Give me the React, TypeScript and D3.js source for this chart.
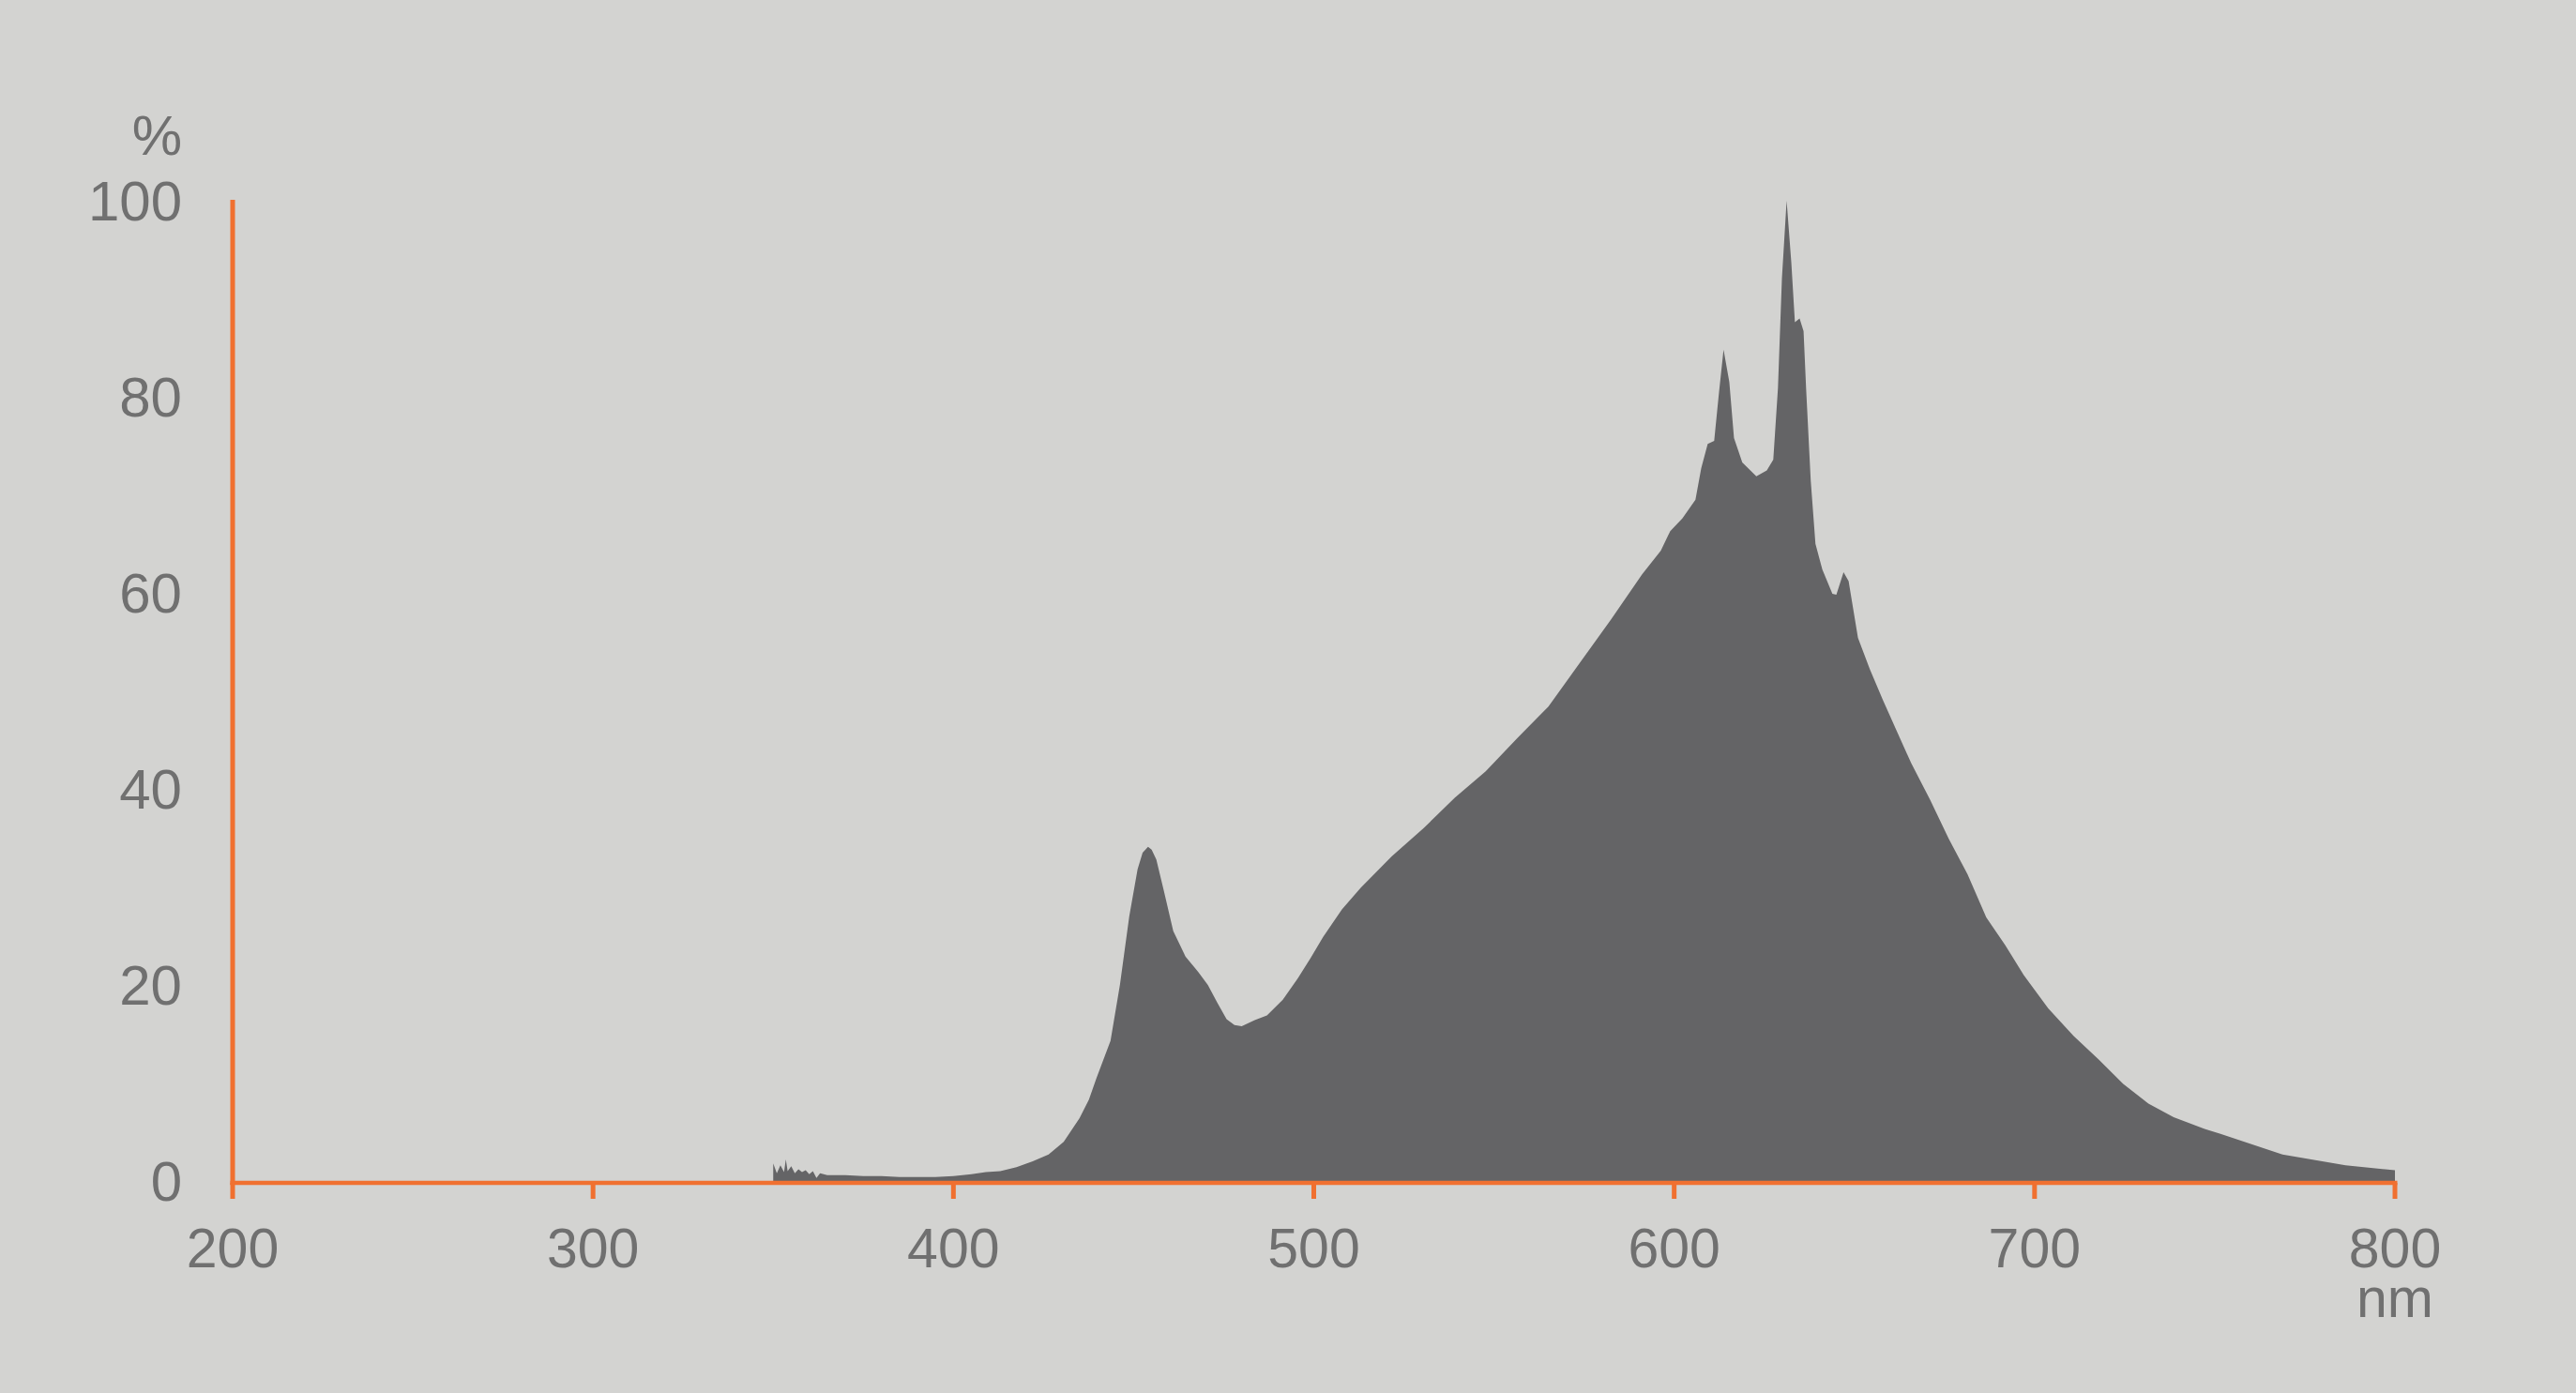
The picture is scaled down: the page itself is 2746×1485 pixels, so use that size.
import React from "react";
import * as d3 from "d3";

const wavelengths = [
  350, 351, 352, 353, 353.5, 354, 355, 356, 357, 358, 359, 360, 361, 362, 363, 365, 370, 375, 380, 385, 390, 395, 400,
  405, 409, 413, 417.5, 422, 426.4, 430.6, 435, 437.6, 439.7, 443.6, 446.2, 448.8, 451.1, 452.5, 454, 455, 456.3,
  458.4, 461, 464.4, 468, 470.6, 473.2, 475.8, 478, 480, 483.6, 487, 491.4, 495.6, 499.2, 502.6, 507.8, 513, 521.6,
  530.5, 539.1, 547.7, 556.5, 565.1, 573.7, 582.5, 591.1, 596.3, 598.9, 602.3, 605.9, 607.5, 609.3, 611.1, 612.4,
  613.7, 615.3, 616.6, 618.9, 622.8, 625.7, 627.5, 628.8, 629.9, 631.2, 632.5, 633.5, 634.8, 635.9, 636.6, 637.9,
  639.2, 641.1, 643.9, 645, 647, 648.4, 651, 654.3, 658, 661.4, 665.8, 671, 676.2, 681.4, 686.6, 691.8, 697, 703.8,
  710.8, 717.8, 724.6, 731.6, 738.6, 747.2, 751.6, 768.8, 786.3, 800,
];
const intensity = [
  1.8, 0.8, 1.6, 0.9, 2.2, 1.0, 1.5, 0.8, 1.2, 0.9, 1.1, 0.7, 1.0, 0.3, 0.8, 0.6, 0.6, 0.5, 0.5, 0.4, 0.4, 0.4, 0.5,
  0.7, 0.9, 1.0, 1.4, 2.0, 2.7, 4.0, 6.4, 8.3, 10.5, 14.3, 20, 27, 31.8, 33.5, 34.1, 33.8, 32.8,
  29.6, 25.5, 22.9, 21.3, 20, 18.2, 16.5, 15.9, 15.8, 16.4, 16.9, 18.5, 20.7, 22.8, 24.9, 27.7, 29.9, 33.1,
  36.0, 39.1, 41.8, 45.2, 48.4, 52.8, 57.3, 61.9, 64.3, 66.3, 67.6, 69.5, 72.7, 75.2, 75.5, 80.3,
  84.8, 81.5, 75.8, 73.3, 71.9, 72.5, 73.6, 80.9, 92.1, 100, 93.7, 87.6, 88, 86.7, 80.9, 71.4,
  65, 62.4, 59.9, 59.8, 62.1, 61.2, 55.4, 52.2, 49.0, 46.2, 42.6, 38.9, 34.9, 31.3, 26.9, 24.1, 21.0, 17.6,
  14.8, 12.4, 9.9, 7.9, 6.5, 5.3, 4.8, 2.7, 1.6, 1.1,
];
const xTicks = [200, 300, 400, 500, 600, 700, 800];
const yTicks = [0, 20, 40, 60, 80, 100];
const yUnit = "%";
const xUnit = "nm";

const W = 2746;
const H = 1485;
const BG = "#d3d3d1";
const FILL = "#646466";
const ORANGE = "#f07030";
const TEXT = "#707070";
const FONT = "'Liberation Sans', Arial, sans-serif";

export default function App() {
  const x = d3.scaleLinear().domain([200, 800]).range([248, 2553]);
  const y = d3.scaleLinear().domain([0, 100]).range([1259, 214]);
  const pts = wavelengths.map((w, i) => [w, intensity[i]] as [number, number]);
  const area = d3
    .area<[number, number]>()
    .x((d) => x(d[0]))
    .y0(y(0))
    .y1((d) => y(d[1]))
    .curve(d3.curveLinear);

  const axisY = 1261;
  return (
    <svg
      width={W}
      height={H}
      style={{ position: "absolute", left: 0, top: 0, display: "block" }}
      xmlns="http://www.w3.org/2000/svg"
    >
      <rect x={0} y={0} width={W} height={H} fill={BG} />
      <path d={area(pts) || ""} fill={FILL} />
      {/* y axis */}
      <line x1={x(200)} x2={x(200)} y1={y(100) - 1} y2={axisY + 2} stroke={ORANGE} strokeWidth={5} />
      {/* x axis */}
      <line x1={x(200) - 2.5} x2={x(800) + 2.5} y1={axisY} y2={axisY} stroke={ORANGE} strokeWidth={4.5} />
      {xTicks.map((t) => (
        <g key={t}>
          <line x1={x(t)} x2={x(t)} y1={axisY} y2={1278} stroke={ORANGE} strokeWidth={5} />
          <text x={x(t)} y={1351} textAnchor="middle" fontFamily={FONT} fontSize={59} fill={TEXT}>
            {t}
          </text>
        </g>
      ))}
      {yTicks.map((t) => (
        <text key={t} x={194} y={y(t) + 21} textAnchor="end" fontFamily={FONT} fontSize={60} fill={TEXT}>
          {t}
        </text>
      ))}
      <text x={194} y={165} textAnchor="end" fontFamily={FONT} fontSize={60} fill={TEXT}>
        {yUnit}
      </text>
      <text x={x(800)} y={1404} textAnchor="middle" fontFamily={FONT} fontSize={59} fill={TEXT}>
        {xUnit}
      </text>
    </svg>
  );
}
